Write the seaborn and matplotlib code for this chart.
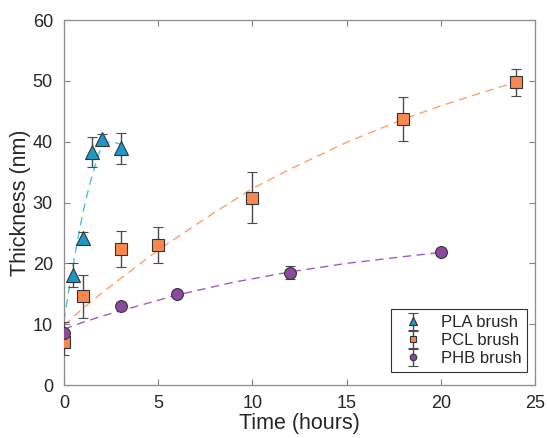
import matplotlib
matplotlib.use("Agg")
import matplotlib.pyplot as plt
import seaborn as sns
import pandas as pd

sns.set_theme(style="white")
plt.rcParams['font.family'] = ['Liberation Sans', 'DejaVu Sans']

# measured data
pla_t = [0.5, 1, 1.5, 2, 3]
pla_y = [18.1, 24.2, 38.3, 40.4, 38.9]
pla_e = [2.0, 1.0, 2.5, 0.9, 2.5]

pcl_t = [0, 1, 3, 5, 10, 18, 24]
pcl_y = [7.0, 14.6, 22.4, 23.0, 30.8, 43.7, 49.8]
pcl_e = [2.0, 3.5, 3.0, 3.0, 4.2, 3.6, 2.2]

phb_t = [0, 3, 6, 12, 20]
phb_y = [8.6, 13.0, 15.0, 18.5, 21.8]
phb_e = [1.8, 0.5, 0.5, 1.0, 0.5]

# fitted curves
pla_fit_t = [0, 0.25, 0.5, 0.75, 1, 1.25, 1.5, 1.75, 2, 2.2, 2.5, 2.8, 3]
pla_fit_y = [10.5, 15.5, 20.0, 24.3, 28.3, 31.6, 34.5, 37.2, 39.3, 39.9, 40.0, 39.8, 39.6]

pcl_fit_t = [0, 1, 2, 3, 5, 8, 10, 12, 15, 18, 20, 22, 24]
pcl_fit_y = [9.8, 12.6, 15.1, 17.5, 22.2, 28.4, 32.3, 35.5, 39.9, 43.7, 45.9, 47.9, 49.8]

phb_fit_t = [0, 1, 2, 3, 6, 9, 12, 15, 18, 20]
phb_fit_y = [9.2, 10.3, 11.3, 12.2, 14.8, 16.9, 18.6, 20.0, 21.1, 21.8]

labels = ["PLA brush", "PCL brush", "PHB brush"]
mk_colors = ["#1B9AC9", "#F7884F", "#8B4A9F"]
ln_colors = ["#4EC0E4", "#FF9F6A", "#A05CC2"]
markers = ["^", "s", "o"]
msizes = [9.5, 8.5, 8.5]

fig = plt.figure(figsize=(5.47, 4.38), dpi=100)
ax = fig.add_axes([0.117, 0.121, 0.861, 0.833])

fits = [(pla_fit_t, pla_fit_y), (pcl_fit_t, pcl_fit_y), (phb_fit_t, phb_fit_y)]
for (ft, fy), c in zip(fits, ln_colors):
    df = pd.DataFrame({"t": ft, "y": fy})
    sns.lineplot(data=df, x="t", y="y", ax=ax, color=c, lw=1.0,
                 dashes=False, linestyle=(0, (6, 4)), legend=False, zorder=1)

series = [(pla_t, pla_y, pla_e), (pcl_t, pcl_y, pcl_e), (phb_t, phb_y, phb_e)]
handles = []
for (t, y, e), lab, c, m, ms in zip(series, labels, mk_colors, markers, msizes):
    h = ax.errorbar(t, y, yerr=e, fmt=m, color="#4a4a4a", ecolor="#4a4a4a",
                    elinewidth=1.0, capsize=3.5, capthick=1.0,
                    markerfacecolor=c, markeredgecolor="#333333", markeredgewidth=0.8,
                    markersize=ms, label=lab, zorder=3)
    handles.append(h)

ax.set_xlim(0, 25)
ax.set_ylim(0, 60)
ax.set_xticks([0, 5, 10, 15, 20, 25])
ax.set_yticks([0, 10, 20, 30, 40, 50, 60])
ax.set_xlabel("Time (hours)", fontsize=15.5, color="#262626", labelpad=1)
ax.set_ylabel("Thickness (nm)", fontsize=15.5, color="#262626", labelpad=1)
ax.tick_params(axis="both", which="both", direction="in", length=4, width=0.8,
               color="#808080", labelsize=13, labelcolor="#262626",
               top=True, right=True, bottom=True, left=True)
ax.tick_params(axis="x", pad=7)
ax.tick_params(axis="y", pad=8)
for s in ax.spines.values():
    s.set_color("#8c8c8c")
    s.set_linewidth(0.9)

leg = ax.legend(handles=handles, labels=labels, loc="lower right",
                bbox_to_anchor=(0.983, 0.036), borderaxespad=0,
                fontsize=12, frameon=True, markerscale=0.55,
                fancybox=False, edgecolor="#333333", framealpha=1,
                handlelength=1.9, handletextpad=0.7, borderpad=0.35, labelspacing=0.18)
leg.get_frame().set_linewidth(0.8)

fig.savefig("out.png", dpi=100)
